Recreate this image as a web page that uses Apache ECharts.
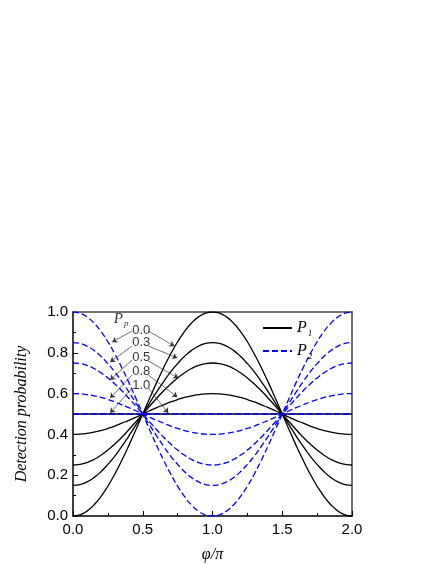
<!DOCTYPE html>
<html>
<head>
<meta charset="utf-8">
<script src="https://cdn.jsdelivr.net/npm/echarts@6/dist/echarts.min.js"></script>
<style>
  html, body { margin: 0; padding: 0; background: #fff; }
  #chart { width: 436px; height: 564px; }
</style>
</head>
<body>
<div id="chart"></div>
<script>
// phi/pi sample points
var xs = [0, 0.05, 0.1, 0.15, 0.2, 0.25, 0.3, 0.35, 0.4, 0.45, 0.5, 0.55, 0.6, 0.65, 0.7, 0.75, 0.8, 0.85, 0.9, 0.95,
  1.0, 1.05, 1.1, 1.15, 1.2, 1.25, 1.3, 1.35, 1.4, 1.45, 1.5, 1.55, 1.6, 1.65, 1.7, 1.75, 1.8, 1.85, 1.9, 1.95, 2.0];

// P1 (solid black), one per Pp
var p1_00 = [0, .006, .024, .054, .095, .146, .206, .273, .345, .422, .5, .578, .655, .727, .794, .854, .905, .946, .976, .994,
  1, .994, .976, .946, .905, .854, .794, .727, .655, .578, .5, .422, .345, .273, .206, .146, .095, .054, .024, .006, 0];
var p1_03 = [.15, .154, .167, .188, .217, .253, .294, .341, .392, .445, .5, .555, .608, .659, .706, .747, .783, .812, .833, .846,
  .85, .846, .833, .812, .783, .747, .706, .659, .608, .555, .5, .445, .392, .341, .294, .253, .217, .188, .167, .154, .15];
var p1_05 = [.25, .253, .262, .277, .298, .323, .353, .386, .423, .461, .5, .539, .577, .614, .647, .677, .702, .723, .738, .747,
  .75, .747, .738, .723, .702, .677, .647, .614, .577, .539, .5, .461, .423, .386, .353, .323, .298, .277, .262, .253, .25];
var p1_08 = [.4, .401, .405, .411, .419, .429, .441, .455, .469, .484, .5, .516, .531, .545, .559, .571, .581, .589, .595, .599,
  .6, .599, .595, .589, .581, .571, .559, .545, .531, .516, .5, .484, .469, .455, .441, .429, .419, .411, .405, .401, .4];
var p1_10 = [.5, .5, .5, .5, .5, .5, .5, .5, .5, .5, .5, .5, .5, .5, .5, .5, .5, .5, .5, .5,
  .5, .5, .5, .5, .5, .5, .5, .5, .5, .5, .5, .5, .5, .5, .5, .5, .5, .5, .5, .5, .5];

// P2 (dashed blue)
var p2_00 = [1, .994, .976, .946, .905, .854, .794, .727, .655, .578, .5, .422, .345, .273, .206, .146, .095, .054, .024, .006,
  0, .006, .024, .054, .095, .146, .206, .273, .345, .422, .5, .578, .655, .727, .794, .854, .905, .946, .976, .994, 1];
var p2_03 = [.85, .846, .833, .812, .783, .747, .706, .659, .608, .555, .5, .445, .392, .341, .294, .253, .217, .188, .167, .154,
  .15, .154, .167, .188, .217, .253, .294, .341, .392, .445, .5, .555, .608, .659, .706, .747, .783, .812, .833, .846, .85];
var p2_05 = [.75, .747, .738, .723, .702, .677, .647, .614, .577, .539, .5, .461, .423, .386, .353, .323, .298, .277, .262, .253,
  .25, .253, .262, .277, .298, .323, .353, .386, .423, .461, .5, .539, .577, .614, .647, .677, .702, .723, .738, .747, .75];
var p2_08 = [.6, .599, .595, .589, .581, .571, .559, .545, .531, .516, .5, .484, .469, .455, .441, .429, .419, .411, .405, .401,
  .4, .401, .405, .411, .419, .429, .441, .455, .469, .484, .5, .516, .531, .545, .559, .571, .581, .589, .595, .599, .6];
var p2_10 = [.5, .5, .5, .5, .5, .5, .5, .5, .5, .5, .5, .5, .5, .5, .5, .5, .5, .5, .5, .5,
  .5, .5, .5, .5, .5, .5, .5, .5, .5, .5, .5, .5, .5, .5, .5, .5, .5, .5, .5, .5, .5];

// Pp annotation labels and their positions (data coords)
var ppLabels = ['0.0', '0.3', '0.5', '0.8', '1.0'];
var labelX = 0.489;
var labelY = [0.912, 0.853, 0.779, 0.711, 0.642];
// arrows: [x1, y1, x2, y2]
var arrowsLeft = [[0.424, 0.907, 0.281, 0.853], [0.424, 0.833, 0.266, 0.755], [0.424, 0.765, 0.266, 0.667],
  [0.424, 0.691, 0.266, 0.578], [0.424, 0.627, 0.266, 0.505]];
var arrowsRight = [[0.540, 0.907, 0.727, 0.833], [0.540, 0.833, 0.748, 0.775], [0.540, 0.760, 0.755, 0.676],
  [0.540, 0.691, 0.748, 0.583], [0.540, 0.627, 0.683, 0.505]];

var chart = echarts.init(document.getElementById('chart'), null, { renderer: 'canvas' });

function pairs(ys) {
  return xs.map(function (x, i) { return [x, ys[i]]; });
}

function curve(name, ys, dashed) {
  return {
    name: name,
    type: 'line',
    data: pairs(ys),
    smooth: true,
    symbol: 'none',
    silent: true,
    lineStyle: {
      color: dashed ? '#0000ff' : '#000',
      width: 1.3,
      type: dashed ? [6, 3] : 'solid'
    },
    itemStyle: { color: dashed ? '#0000ff' : '#000' }
  };
}

var serif = 'Liberation Serif, Times New Roman, serif';
var sans = 'Liberation Sans, Arial, sans-serif';

var arrowData = arrowsLeft.concat(arrowsRight).map(function (a) {
  return [{ coord: [a[0], a[1]] }, { coord: [a[2], a[3]] }];
});

var labelData = ppLabels.map(function (t, i) { return [labelX, labelY[i], t]; });

var mainAxis = {
  axisLine: { show: true, onZero: false, lineStyle: { color: '#000', width: 1.5 } },
  axisTick: { show: true, inside: true, length: 5, lineStyle: { color: '#000', width: 1 } },
  minorTick: { show: true, splitNumber: 2, length: 3, lineStyle: { color: '#000', width: 1 } },
  splitLine: { show: false },
  minorSplitLine: { show: false }
};
var frameAxis = {
  axisLine: { show: true, onZero: false, lineStyle: { color: '#444', width: 1.5 } },
  axisTick: { show: false },
  axisLabel: { show: false },
  splitLine: { show: false }
};

var option = {
  animation: false,
  backgroundColor: '#fff',
  grid: { left: 73, right: 84, top: 312, bottom: 48, containLabel: false },
  legend: {
    left: 257,
    top: 315,
    orient: 'vertical',
    itemWidth: 29,
    itemHeight: 14,
    itemGap: 5,
    selectedMode: false,
    itemStyle: { opacity: 0 },
    data: [{ name: 'P1' }, { name: 'P2' }],
    formatter: function (name) {
      return '{p|P}{s|' + name.charAt(1) + '}';
    },
    textStyle: {
      rich: {
        p: { fontFamily: serif, fontStyle: 'italic', fontSize: 16, color: '#000' },
        s: { fontFamily: serif, fontStyle: 'italic', fontSize: 9, color: '#000', padding: [11, 0, 0, 1] }
      }
    }
  },
  xAxis: [
    Object.assign({
      type: 'value', min: 0, max: 2, interval: 0.5, position: 'bottom',
      name: '\u03c6/\u03c0', nameLocation: 'middle', nameGap: 31,
      nameTextStyle: { fontFamily: serif, fontStyle: 'italic', fontSize: 16, color: '#000' },
      axisLabel: {
        fontFamily: sans, fontSize: 15, color: '#000', margin: 6,
        formatter: function (v) { return v.toFixed(1); }
      }
    }, mainAxis),
    Object.assign({ type: 'value', min: 0, max: 2, position: 'top' }, frameAxis)
  ],
  yAxis: [
    Object.assign({
      type: 'value', min: 0, max: 1, interval: 0.2, position: 'left',
      name: 'Detection probability', nameLocation: 'middle', nameGap: 43,
      nameTextStyle: { fontFamily: serif, fontStyle: 'italic', fontSize: 16, color: '#000' },
      axisLabel: {
        fontFamily: sans, fontSize: 15, color: '#000', margin: 5,
        formatter: function (v) { return v.toFixed(1); }
      }
    }, mainAxis),
    Object.assign({ type: 'value', min: 0, max: 1, position: 'right' }, frameAxis)
  ],
  series: [
    curve('P1', p1_00, false),
    curve('P1', p1_03, false),
    curve('P1', p1_05, false),
    curve('P1', p1_08, false),
    curve('P1', p1_10, false),
    curve('P2', p2_00, true),
    curve('P2', p2_03, true),
    curve('P2', p2_05, true),
    curve('P2', p2_08, true),
    curve('P2', p2_10, true),
    {
      name: 'labels',
      type: 'scatter',
      silent: true,
      symbolSize: 0,
      data: labelData.concat([[0.345, 0.966, 'Pp']]),
      label: {
        show: true,
        position: 'inside',
        formatter: function (p) {
          return p.value[2] === 'Pp' ? '{p|P}{s|p}' : '{n|' + p.value[2] + '}';
        },
        rich: {
          n: { fontFamily: sans, fontSize: 13, color: '#000' },
          p: { fontFamily: serif, fontStyle: 'italic', fontSize: 15, color: '#000' },
          s: { fontFamily: serif, fontStyle: 'italic', fontSize: 9, color: '#000', padding: [10, 0, 0, 1] }
        }
      },
      markLine: {
        silent: true,
        animation: false,
        symbol: ['none', 'arrow'],
        symbolSize: 5,
        label: { show: false },
        lineStyle: { color: '#333', width: 0.7, type: 'solid' },
        data: arrowData
      }
    }
  ]
};

chart.setOption(option);
</script>
</body>
</html>
